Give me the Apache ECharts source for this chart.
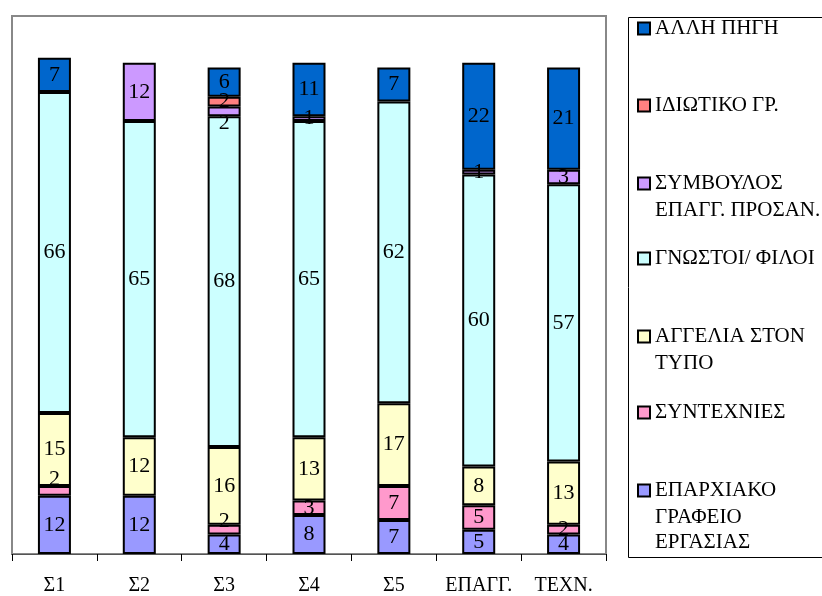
<!DOCTYPE html>
<html>
<head>
<meta charset="utf-8">
<script src="https://cdn.jsdelivr.net/npm/echarts@6/dist/echarts.min.js"></script>
<style>html,body{margin:0;padding:0;background:#fff}#c{width:822px;height:596px}</style>
</head>
<body>
<div id="c"></div>
<script>
const categories = ['Σ1', 'Σ2', 'Σ3', 'Σ4', 'Σ5', 'ΕΠΑΓΓ.', 'ΤΕΧΝ.'];
const eparxiako  = [12, 12, 4, 8, 7, 5, 4];
const syntexnies = [2, null, 2, 3, 7, 5, 2];
const aggelia    = [15, 12, 16, 13, 17, 8, 13];
const gnostoi    = [66, 65, 68, 65, 62, 60, 57];
const symvoulos  = [null, 12, 2, 1, null, 1, 3];
const idiotiko   = [null, null, 2, null, null, null, null];
const alli       = [7, null, 6, 11, 7, 22, 21];

const seriesDefs = [
  {name: 'ΕΠΑΡΧΙΑΚΟ ΓΡΑΦΕΙΟ ΕΡΓΑΣΙΑΣ', data: eparxiako, color: '#9999FF'},
  {name: 'ΣΥΝΤΕΧΝΙΕΣ', data: syntexnies, color: '#FF99CC'},
  {name: 'ΑΓΓΕΛΙΑ ΣΤΟΝ ΤΥΠΟ', data: aggelia, color: '#FFFFCC'},
  {name: 'ΓΝΩΣΤΟΙ/ ΦΙΛΟΙ', data: gnostoi, color: '#CCFFFF'},
  {name: 'ΣΥΜΒΟΥΛΟΣ ΕΠΑΓΓ. ΠΡΟΣΑΝ.', data: symvoulos, color: '#CC99FF'},
  {name: 'ΙΔΙΩΤΙΚΟ ΓΡ.', data: idiotiko, color: '#FF8080'},
  {name: 'ΑΛΛΗ ΠΗΓΗ', data: alli, color: '#0066CC'}
];

// label nudges for thin segments (style only)
const labelNudge = {'0-1': -12, '2-1': -8, '2-4': 12};

const FONT = '"Liberation Serif", "Times New Roman", "DejaVu Serif", serif';
const series = seriesDefs.map((s, si) => ({
  name: s.name,
  type: 'bar',
  stack: 'total',
  barWidth: 33,
  itemStyle: {color: s.color, borderColor: '#000', borderWidth: 2},
  label: {
    show: true, position: 'inside', color: '#000',
    fontFamily: FONT, fontSize: 22,
    formatter: p => (p.value ? String(p.value) : '')
  },
  data: s.data.map((v, ci) => {
    const off = labelNudge[ci + '-' + si];
    if (off && v != null) return {value: v, label: {offset: [0, off]}};
    return v;
  })
}));

// legend layout: [series name, first line, extra lines, center y]
const legendItems = [
  ['ΑΛΛΗ ΠΗΓΗ', 'ΑΛΛΗ ΠΗΓΗ', [], 30],
  ['ΙΔΙΩΤΙΚΟ ΓΡ.', 'ΙΔΙΩΤΙΚΟ ΓΡ.', [], 107],
  ['ΣΥΜΒΟΥΛΟΣ ΕΠΑΓΓ. ΠΡΟΣΑΝ.', 'ΣΥΜΒΟΥΛΟΣ', ['ΕΠΑΓΓ. ΠΡΟΣΑΝ.'], 185],
  ['ΓΝΩΣΤΟΙ/ ΦΙΛΟΙ', 'ΓΝΩΣΤΟΙ/ ΦΙΛΟΙ', [], 260],
  ['ΑΓΓΕΛΙΑ ΣΤΟΝ ΤΥΠΟ', 'ΑΓΓΕΛΙΑ ΣΤΟΝ', ['ΤΥΠΟ'], 338],
  ['ΣΥΝΤΕΧΝΙΕΣ', 'ΣΥΝΤΕΧΝΙΕΣ', [], 414],
  ['ΕΠΑΡΧΙΑΚΟ ΓΡΑΦΕΙΟ ΕΡΓΑΣΙΑΣ', 'ΕΠΑΡΧΙΑΚΟ', ['ΓΡΑΦΕΙΟ', 'ΕΡΓΑΣΙΑΣ'], 492]
];
const LINE = 25;
const legends = legendItems.map(it => ({
  data: [it[0]],
  left: 637,
  top: it[3] - 12,
  orient: 'vertical',
  padding: 0,
  itemWidth: 12, itemHeight: 12, itemGap: 0,
  icon: 'rect',
  selectedMode: false,
  textStyle: {fontFamily: FONT, fontSize: 21, color: '#000'},
  formatter: () => it[1]
}));
const graphics = [{
  type: 'rect', left: 626, top: 15,
  shape: {x: 0, y: 0, width: 210, height: 540},
  style: {fill: 'none', stroke: '#000', lineWidth: 1},
  silent: true
}];
legendItems.forEach(it => {
  it[2].forEach((t, k) => {
    graphics.push({
      type: 'text', x: 655, y: it[3] + LINE * (k + 1),
      style: {text: t, fontFamily: FONT, fontSize: 21, fill: '#000', verticalAlign: 'middle', textVerticalAlign: 'middle'},
      silent: true
    });
  });
});

const chart = echarts.init(document.getElementById('c'), null, {renderer: 'canvas'});
chart.setOption({
  animation: false,
  backgroundColor: '#fff',
  grid: {left: 12, top: 16, right: 216, bottom: 40, show: true, borderColor: '#888', borderWidth: 2, backgroundColor: 'transparent'},
  legend: legends,
  graphic: graphics,
  xAxis: {
    type: 'category', data: categories,
    axisLine: {lineStyle: {color: '#555', width: 1}},
    axisTick: {show: true, length: 7, lineStyle: {color: '#000'}},
    axisLabel: {interval: 0, fontFamily: FONT, fontSize: 20, color: '#000', margin: 22}
  },
  yAxis: {
    type: 'value', min: 0, max: 110.6,
    show: false, splitLine: {show: false}
  },
  series: series
});
</script>
</body>
</html>
